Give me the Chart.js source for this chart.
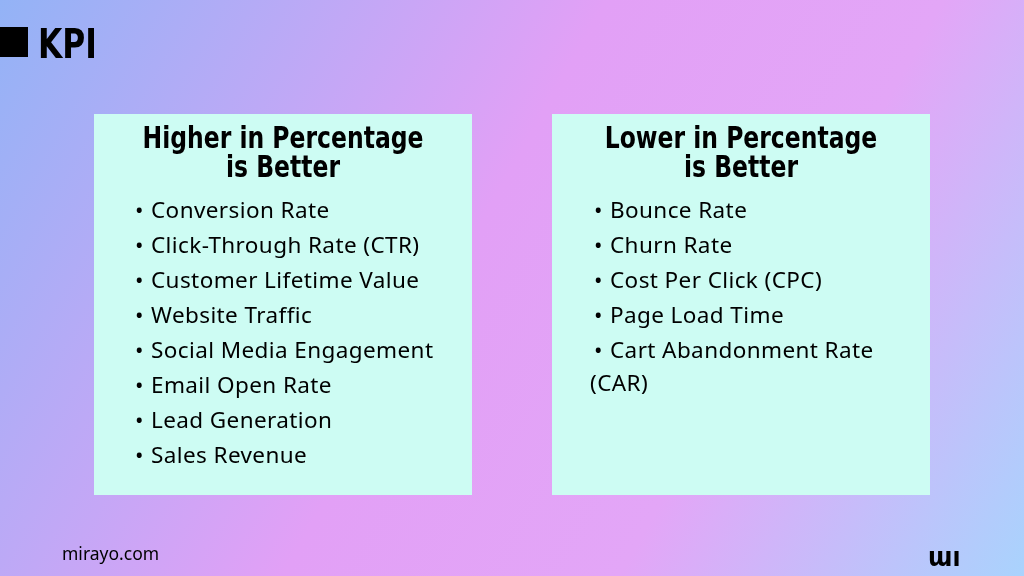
<!DOCTYPE html>
<html><head><meta charset="utf-8">
<script src="https://cdn.jsdelivr.net/npm/chart.js@4"></script>
<style>html,body{margin:0;padding:0;overflow:hidden}#c{display:block}</style>
</head><body>
<canvas id="c" width="1024" height="576"></canvas>
<script>
const pageTitle = "KPI";
const leftTitle = ["Higher in Percentage", "is Better"];
const rightTitle = ["Lower in Percentage", "is Better"];
const leftItems = ["Conversion Rate","Click-Through Rate (CTR)","Customer Lifetime Value","Website Traffic","Social Media Engagement","Email Open Rate","Lead Generation","Sales Revenue"];
const rightItems = ["Bounce Rate","Churn Rate","Cost Per Click (CPC)","Page Load Time","Cart Abandonment Rate"];
const rightWrap = "(CAR)";
const footer = "mirayo.com";

const plugin = {
  id: 'info',
  beforeDraw(chart) {
    const ctx = chart.ctx, W = chart.width, H = chart.height;
    ctx.save();
    const g = ctx.createLinearGradient(0, 0, W, H);
    g.addColorStop(0, '#93b3f6');
    g.addColorStop(0.45, '#e2a0f6');
    g.addColorStop(0.7, '#e3a6f7');
    g.addColorStop(1, '#a9d3fd');
    ctx.fillStyle = g; ctx.fillRect(0, 0, W, H);
    ctx.fillStyle = '#000';
    ctx.fillRect(0, 27, 28, 30);
    ctx.save();
    ctx.translate(38, 58); ctx.scale(0.85, 1);
    ctx.font = 'bold 41px "DejaVu Sans Condensed", "DejaVu Sans"';
    ctx.fillText(pageTitle, 0, 0);
    ctx.restore();
    const boxes = [[94, leftTitle, leftItems, 135], [552, rightTitle, rightItems, 594]];
    boxes.forEach(([x, t, items, bx], i) => {
      ctx.fillStyle = '#cdfcf3';
      ctx.fillRect(x, 114, 378, 381);
      ctx.fillStyle = '#000';
      ctx.textAlign = 'center';
      ctx.font = 'bold 30px "DejaVu Sans Condensed", "DejaVu Sans"';
      t.forEach((line, k) => {
        ctx.save();
        ctx.translate(x + 189, 148 + k * 29); ctx.scale(0.87, 1);
        ctx.fillText(line, 0, 0);
        ctx.restore();
      });
      ctx.textAlign = 'left';
      ctx.font = '22.5px "Noto Sans"';
      ctx.letterSpacing = '0.4px';
      items.forEach((s, k) => {
        ctx.fillText('\u2022', bx, 218 + k * 35);
        ctx.fillText(s, bx + 16, 218 + k * 35);
      });
      if (i === 1) ctx.fillText(rightWrap, 590, 218 + items.length * 35 - 2);
      ctx.letterSpacing = '0px';
    });
    ctx.font = '17.5px "Noto Sans"';
    ctx.fillText(footer, 62, 560);
    ctx.font = 'bold 26px "DejaVu Sans Condensed"';
    ctx.fillText('\u026F\u0131', 928, 566);
    ctx.restore();
  }
};

new Chart(document.getElementById('c'), {
  type: 'bar',
  data: { labels: [], datasets: [] },
  options: {
    responsive: false, animation: false,
    plugins: { legend: { display: false }, tooltip: { enabled: false } },
    scales: { x: { display: false }, y: { display: false } }
  },
  plugins: [plugin]
});
</script>
</body></html>
